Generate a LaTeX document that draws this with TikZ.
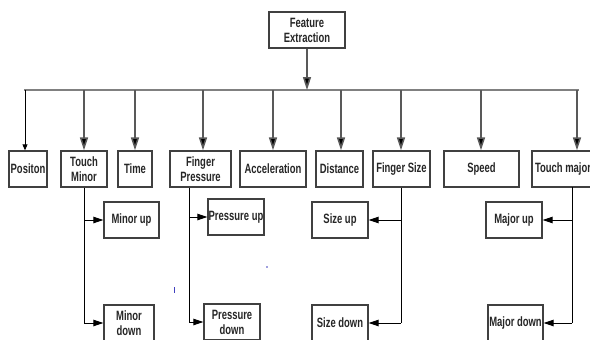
\documentclass[tikz,border=0pt]{standalone}
\usepackage{fontspec}
\setmainfont{Liberation Sans}[FakeStretch=0.7]
\usetikzlibrary{arrows.meta}
\tikzset{
  box/.style={draw=black!75, line width=1.3pt, fill=white, inner sep=0pt, align=center,
    minimum height=36pt, font=\bfseries\fontsize{13.5}{15}\selectfont, text=black!85},
  busline/.style={draw=black!50, line width=2.6pt},
  downarr/.style={draw=black!65, line width=1.6pt, -{Triangle[length=13pt,width=8pt,fill=black]}},
  subline/.style={draw=black, line width=1pt},
  subarr/.style={draw=black, line width=1pt, -{Triangle[length=10pt,width=6.5pt]}},
  thinarr/.style={draw=black, line width=0.8pt, -{Triangle[length=6pt,width=5pt]}}
}
\begin{document}
\begin{tikzpicture}[x=1pt,y=-1pt]
\useasboundingbox (0,0) rectangle (590,340);
\fill[white] (0,0) rectangle (590,340);
% top
\node[box, minimum width=76pt] (fe) at (307,30) {Feature\\Extraction};
% bus
\coordinate (busL) at (24,90);
\coordinate (busR) at (579,90);
\draw[busline] (busL) -- (busR);
% row boxes
\node[box, minimum width=38pt] (pos) at (28,169) {Positon};
\node[box, minimum width=46pt] (tmin) at (84,169) {Touch\\Minor};
\node[box, minimum width=34pt] (time) at (135,169) {Time};
\node[box, minimum width=61pt] (fp) at (200.5,169) {Finger\\Pressure};
\node[box, minimum width=66pt] (acc) at (273,169) {Acceleration};
\node[box, minimum width=47pt] (dist) at (339.5,169) {Distance};
\node[box, minimum width=57pt] (fs) at (401.5,169) {Finger Size};
\node[box, minimum width=75pt] (speed) at (481.5,169) {Speed};
\node[box, minimum width=62pt] (tmaj) at (563,169) {Touch major};
% sub boxes
\node[box, minimum width=55pt] (minup) at (131.5,220) {Minor up};
\node[box, minimum width=50pt] (mindown) at (129,323) {Minor\\down};
\node[box, minimum width=56pt] (presup) at (236,217) {Pressure up};
\node[box, minimum width=56pt] (presdown) at (232,322) {Pressure\\down};
\node[box, minimum width=56pt] (sizeup) at (340,220) {Size up};
\node[box, minimum width=56pt] (sizedown) at (340,323) {Size down};
\node[box, minimum width=56pt] (majup) at (514,220) {Major up};
\node[box, minimum width=55pt] (majdown) at (515.5,323) {Major down};
% arrow from top
\draw[downarr] (fe.south) -- (fe.south |- busL);
% bus drops
\coordinate (b1) at (25,90);
\coordinate (b2) at (84,90);
\coordinate (b3) at (135,90);
\coordinate (b4) at (203,90);
\coordinate (b5) at (273,90);
\coordinate (b6) at (341,90);
\coordinate (b7) at (401,90);
\coordinate (b8) at (481,90);
\coordinate (b9) at (577,90);
\draw[thinarr] (b1) -- (b1 |- pos.north);
\draw[downarr] (b2) -- (b2 |- tmin.north);
\draw[downarr] (b3) -- (b3 |- time.north);
\draw[downarr] (b4) -- (b4 |- fp.north);
\draw[downarr] (b5) -- (b5 |- acc.north);
\draw[downarr] (b6) -- (b6 |- dist.north);
\draw[downarr] (b7) -- (b7 |- fs.north);
\draw[downarr] (b8) -- (b8 |- speed.north);
\draw[downarr] (b9) -- (b9 |- tmaj.north);
% touch minor branch
\coordinate (tm) at (tmin.south);
\draw[subline] (tm) -- (tm |- mindown.west);
\draw[subarr] (tm |- minup.west) -- (minup.west);
\draw[subarr] (tm |- mindown.west) -- (mindown.west);
% pressure branch
\coordinate (fpv) at ([xshift=-11.5pt]fp.south);
\draw[subline] (fpv) -- (fpv |- presdown.west);
\draw[subarr] (fpv |- presup.west) -- (presup.west);
\draw[subarr] (fpv |- presdown.west) -- (presdown.west);
% finger size branch
\coordinate (fsv) at ([xshift=-0.5pt]fs.south);
\draw[subline] (fsv) -- (fsv |- sizedown.east);
\draw[subarr] (fsv |- sizeup.east) -- (sizeup.east);
\draw[subarr] (fsv |- sizedown.east) -- (sizedown.east);
% touch major branch
\coordinate (tmv) at (572,187);
\draw[subline] (tmv) -- (tmv |- majdown.east);
\draw[subarr] (tmv |- majup.east) -- (majup.east);
\draw[subarr] (tmv |- majdown.east) -- (majdown.east);
% stray marks
\draw[blue!50!gray, line width=0.7pt] (174.5,287) -- (174.5,293);
\fill[blue!50!gray] (267,267) circle (0.8pt);
\end{tikzpicture}
\end{document}
